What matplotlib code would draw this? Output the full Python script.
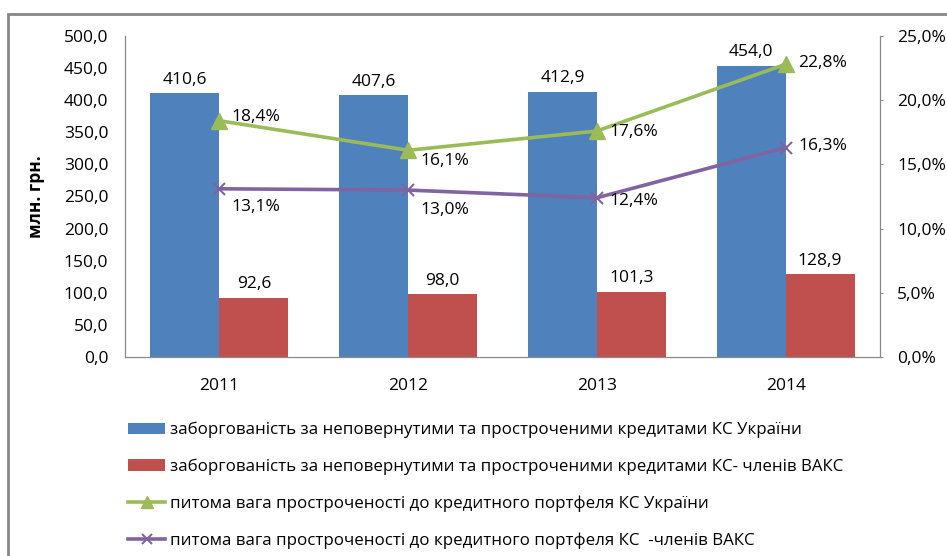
import matplotlib
matplotlib.use("Agg")
import matplotlib.pyplot as plt
import numpy as np
from matplotlib.patches import Rectangle
from matplotlib.ticker import FuncFormatter

plt.rcParams['font.family'] = ['Open Sans', 'DejaVu Sans']

# data
years = ['2011', '2012', '2013', '2014']
debt_ua = [410.6, 407.6, 412.9, 454.0]
debt_vaks = [92.6, 98.0, 101.3, 128.9]
share_ua = [18.4, 16.1, 17.6, 22.8]
share_vaks = [13.1, 13.0, 12.4, 16.3]

labels = [
    'заборгованість за неповернутими та простроченими кредитами КС України',
    'заборгованість за неповернутими та простроченими кредитами КС- членів ВАКС',
    'питома вага простроченості до кредитного портфеля КС України',
    'питома вага простроченості до кредитного портфеля КС  -членів ВАКС',
]

c_blue = '#4F81BD'
c_red = '#C0504D'
c_green = '#9BBB59'
c_purple = '#8064A2'
c_axis = '#898989'
fs = 12.5

def comma(v, nd=1):
    return f'{v:.{nd}f}'.replace('.', ',')

fig = plt.figure(figsize=(9.47, 5.56), dpi=100)
ax = fig.add_axes([125/947, 1 - 357/556, 755/947, 321/556])
ax2 = ax.twinx()

x = np.arange(len(years))
w = 0.365
b1 = ax.bar(x - w/2, debt_ua, w, color=c_blue, label=labels[0], zorder=2)
b2 = ax.bar(x + w/2, debt_vaks, w, color=c_red, label=labels[1], zorder=2)

for rect, v in zip(b1, debt_ua):
    ax.annotate(comma(v), (rect.get_x() + rect.get_width()/2, v), xytext=(0, 4),
                textcoords='offset points', ha='center', va='bottom', fontsize=fs)
for rect, v in zip(b2, debt_vaks):
    ax.annotate(comma(v), (rect.get_x() + rect.get_width()/2, v), xytext=(0, 4),
                textcoords='offset points', ha='center', va='bottom', fontsize=fs)

l1, = ax2.plot(x, share_ua, color=c_green, lw=2.6, marker='^', ms=11,
               label=labels[2], zorder=3)
l2, = ax2.plot(x, share_vaks, color=c_purple, lw=2.6, marker='x', ms=9, mew=1.5,
               label=labels[3], zorder=3)

# label offsets (points) to mimic the original placement
off_ua = [(9, 3), (9, -8), (9, -1), (9, 1)]
off_vaks = [(9, -13), (9, -14), (9, -2), (9, 1)]
for xi, v, o in zip(x, share_ua, off_ua):
    ax2.annotate(comma(v) + '%', (xi, v), xytext=o, textcoords='offset points',
                 ha='left', va='center', fontsize=fs)
for xi, v, o in zip(x, share_vaks, off_vaks):
    ax2.annotate(comma(v) + '%', (xi, v), xytext=o, textcoords='offset points',
                 ha='left', va='center', fontsize=fs)

ax.set_xlim(-0.5, len(years) - 0.5)
ax.set_ylim(0, 500)
ax.set_yticks(np.arange(0, 501, 50))
ax.yaxis.set_major_formatter(FuncFormatter(lambda v, p: comma(v)))
ax2.set_ylim(0, 25)
ax2.set_yticks(np.arange(0, 26, 5))
ax2.yaxis.set_major_formatter(FuncFormatter(lambda v, p: comma(v) + '%'))
ax.set_xticks(x)
ax.set_xticklabels(years)

for a in (ax, ax2):
    for s in a.spines.values():
        s.set_visible(False)
ax.spines['left'].set_visible(True)
ax.spines['bottom'].set_visible(True)
ax2.spines['right'].set_visible(True)
for s in (ax.spines['left'], ax.spines['bottom'], ax2.spines['right']):
    s.set_color(c_axis)
    s.set_linewidth(0.9)

ax.tick_params(axis='y', length=0, labelsize=fs, pad=12)
ax.tick_params(axis='x', length=0, labelsize=fs, pad=15)
ax2.tick_params(axis='y', length=2.5, color=c_axis, labelsize=fs, pad=10)

ax.set_ylabel('млн. грн.', fontsize=fs, fontweight='bold')
ax.yaxis.set_label_coords(-0.106, 0.5)

fig.legend([b1, b2, l1, l2], labels, loc='upper left',
           bbox_to_anchor=(128/947, 1 - 422/556), frameon=False, fontsize=12.2,
           labelspacing=1.2, handlelength=2.2, handletextpad=0.3,
           borderaxespad=0, borderpad=0, markerscale=0.8)

fig.patches.append(Rectangle((8/947, -0.05), 1.2, 1 - 14/556 + 0.05,
                             transform=fig.transFigure, fill=False,
                             edgecolor='#868686', lw=2, zorder=-1))

fig.savefig('out.png', dpi=100)
